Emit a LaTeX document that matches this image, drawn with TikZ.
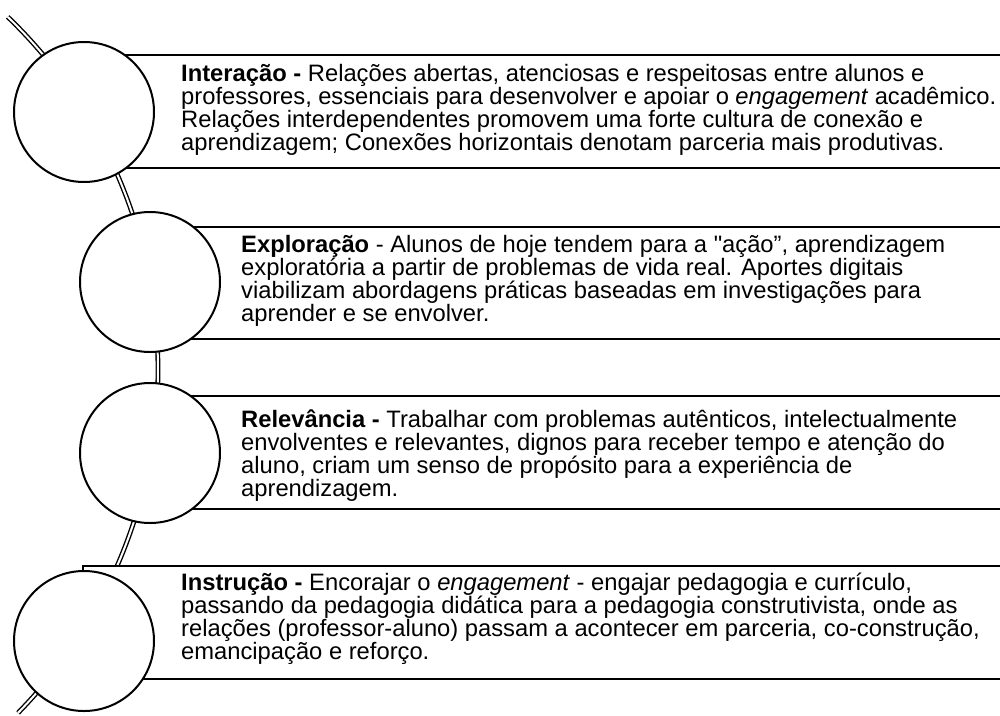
\documentclass[tikz,border=0pt]{standalone}
\usepackage{fontspec}
\setmainfont{Liberation Sans}
\begin{document}
\begin{tikzpicture}[x=1pt,y=-1pt,
  box/.style={draw=black,line width=2pt,fill=white},
  bead/.style={circle,draw=black,line width=2pt,fill=white,minimum size=140pt,inner sep=0pt},
  rail/.style={draw=black,line width=1.4pt,double=white,double distance=2pt},
  txt/.style={anchor=base west,inner sep=0pt,font=\fontsize{23.75}{23}\selectfont}]
\useasboundingbox (0,0) rectangle (1000,715);
% curved rail
\draw[rail] (-332,370) ++(-46.1:490) arc[start angle=-46.1, end angle=44.4, radius=490];
% boxes
\draw[box] (84,55) rectangle (1010,168);
\draw[box] (150,227) rectangle (1010,339);
\draw[box] (150,396) rectangle (1010,509);
\draw[box] (83,566) rectangle (1010,679);
% circles
\node[bead] (c1) at (84,112) {};
\node[bead] (c2) at (150,282) {};
\node[bead] (c3) at (150,453) {};
\node[bead] (c4) at (84,641) {};
% texts
\node[txt] (t1) at (181,81) {\parbox[t]{815pt}{\raggedright\baselineskip=23pt
\textbf{Interação -} Relações abertas, atenciosas e respeitosas entre alunos e\\
professores, essenciais para desenvolver e apoiar o \textit{engagement} acadêmico.\\
Relações interdependentes promovem uma forte cultura de conexão e\\
aprendizagem; Conexões horizontais denotam parceria mais produtivas.}};
\node[txt] (t2) at (241,252) {\parbox[t]{755pt}{\raggedright\baselineskip=23pt
\textbf{Exploração} - Alunos de hoje tendem para a {\addfontfeatures{Ligatures=TeXOff}"}ação”, aprendizagem\\
exploratória a partir de problemas de vida real. Aportes digitais\\
viabilizam abordagens práticas baseadas em investigações para\\
aprender e se envolver.}};
\node[txt] (t3) at (241,427) {\parbox[t]{755pt}{\raggedright\baselineskip=23pt
\textbf{Relevância -} Trabalhar com problemas autênticos, intelectualmente\\
envolventes e relevantes, dignos para receber tempo e atenção do\\
aluno, criam um senso de propósito para a experiência de\\
aprendizagem.}};
\node[txt] (t4) at (181,590) {\parbox[t]{815pt}{\raggedright\baselineskip=23pt
\textbf{Instrução -} Encorajar o \textit{engagement} - engajar pedagogia e currículo,\\
passando da pedagogia didática para a pedagogia construtivista, onde as\\
relações (professor-aluno) passam a acontecer em parceria, co-construção,\\
emancipação e reforço.}};
\end{tikzpicture}
\end{document}
